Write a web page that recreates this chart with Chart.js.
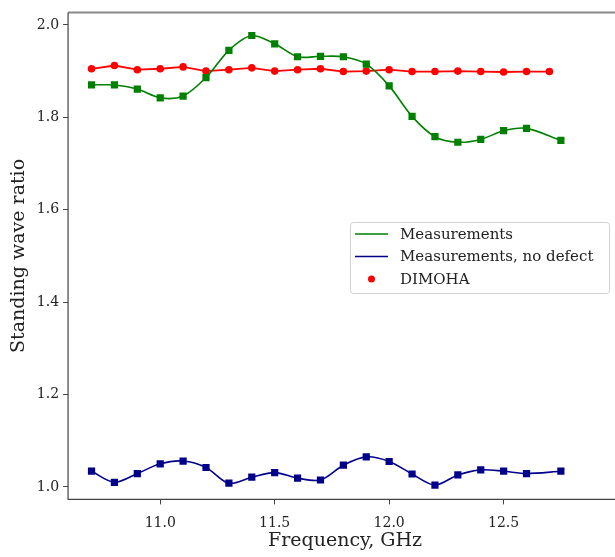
<!DOCTYPE html>
<html>
<head>
<meta charset="utf-8">
<script src="https://cdn.jsdelivr.net/npm/chart.js@4"></script>
<style>
  html, body { margin: 0; padding: 0; background: #fff; overflow: hidden; }
  #wrap { position: relative; width: 640px; height: 557px; }
</style>
</head>
<body>
<div id="wrap"><canvas id="chart" width="640" height="557"></canvas></div>
<script>
const measFreqs = [10.7, 10.8, 10.9, 11.0, 11.1, 11.2, 11.3, 11.4, 11.5, 11.6, 11.7,
                   11.8, 11.9, 12.0, 12.1, 12.2, 12.3, 12.4, 12.5, 12.6, 12.75];
const dimohaFreqs = [10.7, 10.8, 10.9, 11.0, 11.1, 11.2, 11.3, 11.4, 11.5, 11.6, 11.7,
                     11.8, 11.9, 12.0, 12.1, 12.2, 12.3, 12.4, 12.5, 12.6, 12.7];

const measured = [1.870, 1.870, 1.861, 1.842, 1.846, 1.886, 1.945, 1.977, 1.959, 1.931, 1.932,
                  1.931, 1.915, 1.868, 1.802, 1.758, 1.746, 1.752, 1.771, 1.776, 1.750];
const noDefect = [1.034, 1.010, 1.029, 1.050, 1.056, 1.042, 1.008, 1.021, 1.031, 1.019, 1.015,
                  1.047, 1.065, 1.055, 1.028, 1.004, 1.026, 1.037, 1.034, 1.029, 1.034];
const dimoha = [1.905, 1.912, 1.903, 1.905, 1.909, 1.900, 1.903, 1.907, 1.900, 1.903, 1.905,
                1.899, 1.900, 1.903, 1.899, 1.899, 1.900, 1.899, 1.898, 1.899, 1.899];

const xTicks = [11.0, 11.5, 12.0, 12.5];
const yTicks = [1.0, 1.2, 1.4, 1.6, 1.8, 2.0];

const legendItems = [
  { label: 'Measurements', color: '#008000', kind: 'line' },
  { label: 'Measurements, no defect', color: '#00008b', kind: 'line' },
  { label: 'DIMOHA', color: '#ff0000', kind: 'dot' },
];

const toPoints = (xs, ys) => xs.map((x, i) => ({ x, y: ys[i] }));

const SERIF = "'DejaVu Serif', 'Liberation Serif', serif";

// spines (right one falls outside the window) and the in-plot legend
const framePlugin = {
  id: 'frameAndLegend',
  afterDraw(chart) {
    const { ctx, chartArea } = chart;
    const { left, right, top, bottom } = chartArea;
    ctx.save();
    ctx.strokeStyle = '#888';
    ctx.lineWidth = 2;
    ctx.beginPath();
    ctx.moveTo(left, top);
    ctx.lineTo(right, top);
    ctx.stroke();

    ctx.strokeStyle = '#444';
    ctx.lineWidth = 1.2;
    ctx.beginPath();
    ctx.moveTo(left, top);
    ctx.lineTo(left, bottom);
    ctx.lineTo(right, bottom);
    ctx.stroke();

    const bx = 350, by = 222, bw = 259, bh = 71;
    ctx.fillStyle = 'rgba(255,255,255,0.85)';
    ctx.strokeStyle = '#d0d0d0';
    ctx.lineWidth = 1;
    ctx.beginPath();
    ctx.roundRect(bx + 0.5, by + 0.5, bw, bh, 3);
    ctx.fill();
    ctx.stroke();

    ctx.font = `15px ${SERIF}`;
    ctx.textBaseline = 'middle';
    legendItems.forEach((item, i) => {
      const y = 234 + i * 22.5;
      if (item.kind === 'line') {
        ctx.strokeStyle = item.color;
        ctx.lineWidth = 1.6;
        ctx.beginPath();
        ctx.moveTo(355, y);
        ctx.lineTo(388, y);
        ctx.stroke();
      } else {
        ctx.fillStyle = item.color;
        ctx.beginPath();
        ctx.arc(371.5, y, 3.5, 0, Math.PI * 2);
        ctx.fill();
      }
      ctx.fillStyle = '#222';
      ctx.fillText(item.label, 400, y + 1);
    });
    ctx.restore();
  },
};

new Chart(document.getElementById('chart'), {
  type: 'line',
  data: {
    datasets: [
      {
        label: 'Measurements',
        data: toPoints(measFreqs, measured),
        borderColor: '#008000',
        backgroundColor: '#008000',
        borderWidth: 1.6,
        tension: 0.3,
        pointStyle: 'rect',
        pointRadius: 5.1,
        pointBorderWidth: 0,
      },
      {
        label: 'Measurements, no defect',
        data: toPoints(measFreqs, noDefect),
        borderColor: '#00008b',
        backgroundColor: '#00008b',
        borderWidth: 1.6,
        tension: 0.3,
        pointStyle: 'rect',
        pointRadius: 5.1,
        pointBorderWidth: 0,
      },
      {
        label: 'DIMOHA',
        data: toPoints(dimohaFreqs, dimoha),
        borderColor: '#ff0000',
        backgroundColor: '#ff0000',
        borderWidth: 1.8,
        tension: 0,
        pointStyle: 'circle',
        pointRadius: 3.8,
        pointBorderWidth: 0,
      },
    ],
  },
  plugins: [framePlugin],
  options: {
    responsive: false,
    animation: false,
    layout: { padding: { top: 4, right: 18, left: 8, bottom: 5 } },
    plugins: {
      legend: { display: false },
      tooltip: { enabled: false },
    },
    scales: {
      x: {
        type: 'linear',
        min: 10.5975,
        max: 13.017,
        afterBuildTicks: (axis) => { axis.ticks = xTicks.map((value) => ({ value })); },
        grid: { display: true, drawOnChartArea: false, drawTicks: true, tickLength: 5, color: '#444', lineWidth: 1 },
        border: { display: false },
        ticks: {
          color: '#222',
          font: { family: SERIF, size: 14 },
          padding: 11,
          maxRotation: 0,
          callback: (v) => Number(v).toFixed(1),
        },
        title: {
          display: true,
          text: 'Frequency, GHz',
          color: '#222',
          font: { family: SERIF, size: 19 },
          padding: { top: -14, bottom: 0 },
        },
      },
      y: {
        type: 'linear',
        min: 0.973,
        max: 2.027,
        afterBuildTicks: (axis) => { axis.ticks = yTicks.map((value) => ({ value })); },
        grid: { display: true, drawOnChartArea: false, drawTicks: true, tickLength: 5, color: '#444', lineWidth: 1 },
        border: { display: false },
        ticks: {
          color: '#222',
          font: { family: SERIF, size: 14 },
          padding: 4,
          callback: (v) => Number(v).toFixed(1),
        },
        title: {
          display: true,
          text: 'Standing wave ratio',
          color: '#222',
          font: { family: SERIF, size: 19 },
          padding: { top: 0, bottom: 2 },
        },
      },
    },
  },
});
</script>
</body>
</html>
